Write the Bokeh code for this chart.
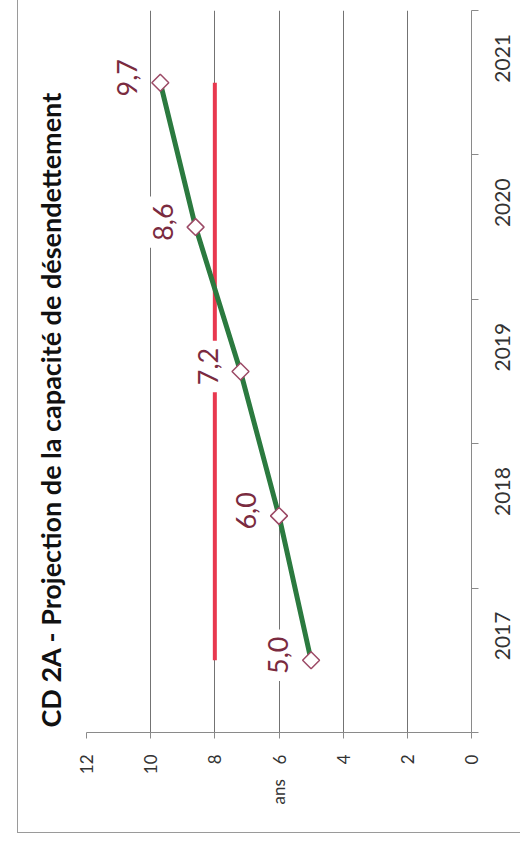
import math
import numpy as np
from bokeh.plotting import figure
from bokeh.models import (Range1d, FixedTicker, ColumnDataSource, Label)
from bokeh.embed import file_html
from bokeh.resources import INLINE

# ---- data ----
years = ["2017", "2018", "2019", "2020", "2021"]
ratio = [5.0, 6.0, 7.2, 8.6, 9.7]
ratio_labels = ["5,0", "6,0", "7,2", "8,6", "9,7"]
threshold = [8, 8, 8, 8, 8]
value_ticks = [0, 2, 4, 6, 8, 10, 12]
title_text = "CD 2A - Projection de la capacité de désendettement"
unit_text = "ans"

FONT = "Lato"
UP = math.pi / 2
pos = [i + 0.5 for i in range(len(years))]
bounds = [float(i) for i in range(len(years) + 1)]

src = ColumnDataSource(dict(year=years, pos=pos, ratio=ratio,
                            lab=ratio_labels, thr=threshold))

p = figure(width=520, height=840, output_backend="svg", toolbar_location=None,
           x_range=Range1d(12, 0), y_range=Range1d(0, len(years)),
           x_axis_location="below", y_axis_location="right",
           title=title_text, title_location="left",
           min_border_left=86, min_border_right=47, min_border_top=10,
           min_border_bottom=108)
p.outline_line_color = None
p.background_fill_color = "white"
p.border_fill_color = None
# faint outer frame of the scanned chart (left and bottom edges)
p.styles = {
    "background-color": "white",
    "background-image": ("linear-gradient(#9a9a9a, #9a9a9a), "
                         "linear-gradient(#9a9a9a, #9a9a9a)"),
    "background-position": "17px 0px, 17px 832px",
    "background-size": "1px 833px, 600px 1px",
    "background-repeat": "no-repeat",
}

# title
p.title.text_font = FONT
p.title.text_font_style = "bold"
p.title.text_font_size = "27px"
p.title.text_color = "#111111"
p.title.align = "left"
p.title.offset = 5
p.title.standoff = 39

# value axis (bottom)
xa = p.xaxis[0]
xa.ticker = FixedTicker(ticks=value_ticks)
xa.major_label_orientation = UP
xa.major_label_text_font = FONT
xa.major_label_text_font_size = "17px"
xa.major_label_text_color = "#333333"
xa.major_label_standoff = 16
xa.axis_line_color = "#8a8a8a"
xa.major_tick_line_color = "#8a8a8a"
xa.major_tick_out = 6
xa.major_tick_in = 0
xa.minor_tick_line_color = None
xa.axis_label = unit_text
xa.axis_label_orientation = UP
xa.axis_label_text_font = FONT
xa.axis_label_text_font_size = "17px"
xa.axis_label_text_font_style = "normal"
xa.axis_label_text_color = "#333333"
xa.axis_label_standoff = 2

# category axis (right)
ya = p.yaxis[0]
ya.ticker = FixedTicker(ticks=pos, minor_ticks=bounds)
ya.major_label_overrides = {pv: y for pv, y in zip(pos, years)}
ya.major_label_orientation = UP
ya.major_label_text_font = FONT
ya.major_label_text_font_size = "21px"
ya.major_label_text_color = "#333333"
ya.major_label_standoff = 24
ya.axis_line_color = "#8a8a8a"
ya.major_tick_line_color = None
ya.minor_tick_line_color = "#8a8a8a"
ya.minor_tick_out = 7
ya.minor_tick_in = 0

# grid
p.xgrid.ticker = FixedTicker(ticks=value_ticks)
p.xgrid.grid_line_color = "#737373"
p.xgrid.grid_line_width = 1
p.ygrid.grid_line_color = None

# threshold line (red)
p.line(x="thr", y="pos", source=src, line_color="#e8384f", line_width=4)
# ratio line (green)
p.line(x="ratio", y="pos", source=src, line_color="#2b7a3f", line_width=5)
p.scatter(x="ratio", y="pos", source=src, marker="square", angle=math.pi / 4,
          size=12, fill_color="white", line_color="#9c4a66", line_width=1.5)

# data labels
for r, pv, lab in zip(ratio, pos, ratio_labels):
    p.add_layout(Label(x=r, y=pv, text=lab, angle=UP,
                       x_offset=-33, y_offset=5,
                       text_align="center", text_baseline="middle",
                       text_font=FONT, text_font_size="27px",
                       text_color="#7a2b40", background_fill_color="white",
                       padding=7))

open("out.html", "w").write(file_html(p, INLINE))
